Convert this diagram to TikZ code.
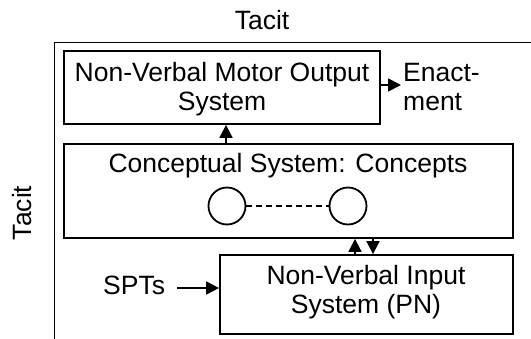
\documentclass[tikz,border=0pt]{standalone}
\usepackage{fontspec}
\setmainfont{Liberation Sans}
\usetikzlibrary{arrows.meta}
\begin{document}
\begin{tikzpicture}[x=1pt,y=-1pt,
  box/.style={draw,line width=1.8pt,inner sep=0pt},
  txt/.style={inner sep=0pt,anchor=base,font=\fontsize{26.5}{29}\selectfont},
  arr/.style={line width=1.8pt,-{Triangle[length=13pt,width=13pt]}},
  conc/.style={draw,line width=1.8pt,circle,minimum size=37pt,inner sep=0pt}]
\useasboundingbox (0,0) rectangle (531,338);
% outer frame
\coordinate (fb) at (54.5,340);
\coordinate (ftl) at (54.5,42.5);
\coordinate (fr) at (533,42.5);
\draw[line width=1.8pt] (fb) -- (ftl) -- (fr);
\node[txt] (tacittop) at (262,29) {Tacit};
\node[txt,rotate=90,anchor=center] (tacitleft) at (22,213) {Tacit};
% boxes
\node[box,minimum width=316pt,minimum height=73pt] (motor) at (222,87.5) {};
\node[txt,align=center] (motortxt) at (222,110) {Non-Verbal Motor Output\\System};
\node[box,minimum width=449pt,minimum height=94pt] (concept) at (288.5,191) {};
\node[txt] (concepttxt) at (288,172) {Conceptual System: Concepts};
\node[box,minimum width=293pt,minimum height=79pt] (input) at (366.5,294.5) {};
\node[txt,align=center] (inputtxt) at (366,313) {Non-Verbal Input\\System (PN)};
% concepts
\node[conc] (c1) at (227,206) {};
\node[conc] (c2) at (348,206) {};
\draw[line width=1.4pt,dash pattern=on 6pt off 4pt] (c1) -- (c2);
% enactment
\node[txt,align=left,anchor=base west] (enact) at (403,110) {Enact-\\ment};
\coordinate (enactin) at (401,85);
\draw[arr] (motor.east |- enactin) -- (enactin);
% SPTs
\node[txt,anchor=base west] (spts) at (103,294) {SPTs};
\coordinate (sptsstart) at (177,288);
\draw[arr] (sptsstart) -- (input.west |- sptsstart);
% vertical arrows
\draw[arr] (concept.north -| 226,0) -- (motor.south -| 226,0);
\draw[arr] (input.north -| 355,0) -- (concept.south -| 355,0);
\draw[arr] (concept.south -| 373,0) -- (input.north -| 373,0);
\end{tikzpicture}
\end{document}
